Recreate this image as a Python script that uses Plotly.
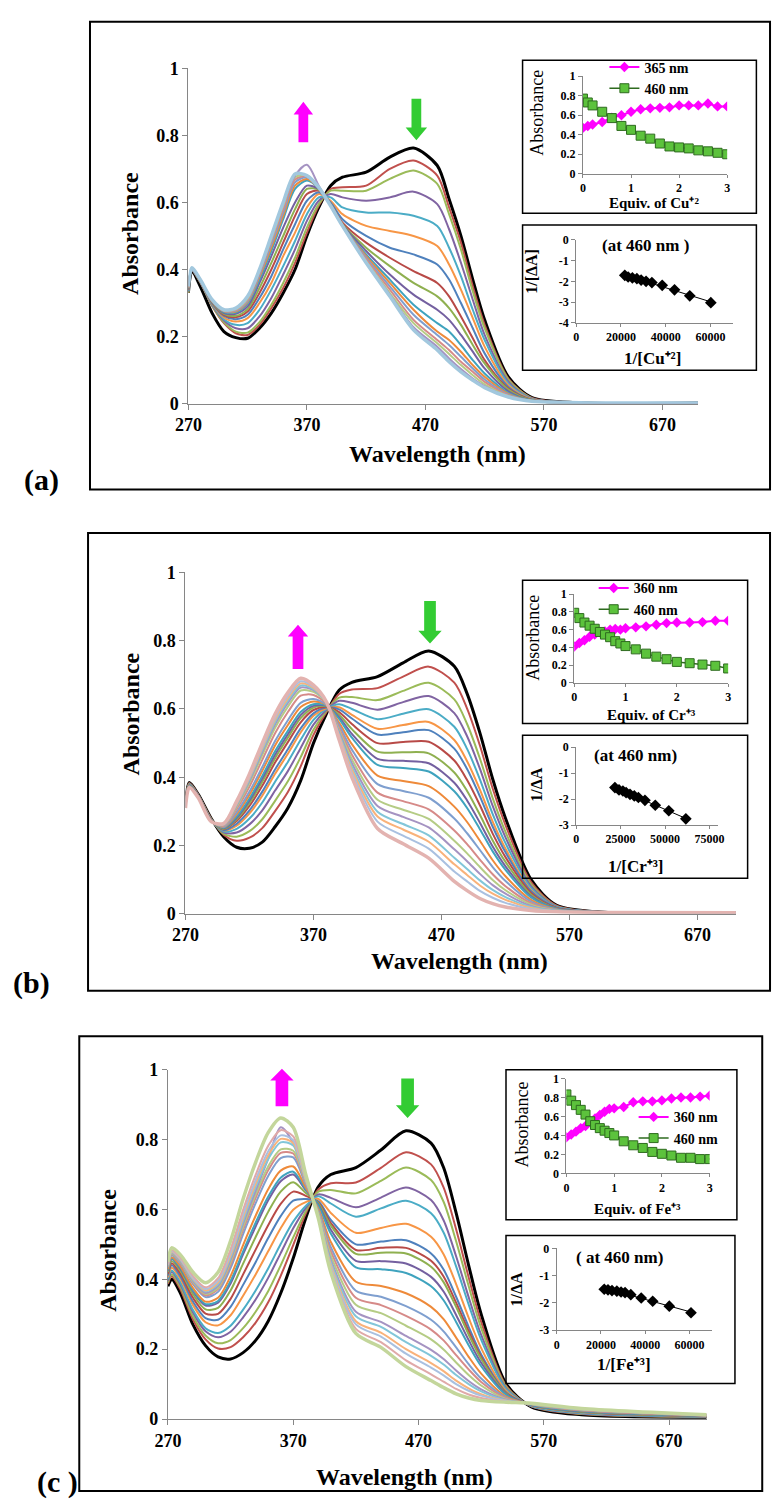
import numpy as np
import plotly.graph_objects as go

W, H = 777, 1504
FONT = "Liberation Serif, Times New Roman, Times, serif"

# ---------------- data ----------------
WL = [270, 273, 280, 290, 300, 310, 320, 330, 340, 350, 360, 370, 380, 390, 400,
      420, 440, 460, 480, 490, 500, 510, 520, 540, 560, 600, 700]

# (a) Cu2+ titration spectra (first = free ligand, last = final)
spectra_cu = [
    [0.33,0.395,0.35,0.27,0.215,0.197,0.195,0.225,0.27,0.33,0.40,0.50,0.585,0.65,0.675,0.69,0.735,0.762,0.71,0.61,0.50,0.37,0.25,0.08,0.018,0.003,0.002],
    [0.33,0.396,0.362,0.292,0.24,0.21,0.205,0.235,0.285,0.345,0.42,0.51,0.59,0.64,0.645,0.65,0.70,0.725,0.68,0.585,0.48,0.35,0.235,0.075,0.017,0.003,0.002],
    [0.33,0.397,0.362,0.293,0.243,0.215,0.212,0.243,0.295,0.36,0.435,0.525,0.595,0.635,0.635,0.635,0.67,0.695,0.655,0.565,0.46,0.335,0.225,0.072,0.016,0.003,0.002],
    [0.335,0.398,0.363,0.295,0.248,0.225,0.225,0.26,0.315,0.385,0.46,0.545,0.605,0.625,0.615,0.605,0.615,0.632,0.595,0.52,0.42,0.31,0.205,0.066,0.015,0.003,0.002],
    [0.335,0.399,0.364,0.297,0.252,0.235,0.24,0.28,0.34,0.41,0.485,0.565,0.615,0.615,0.585,0.57,0.57,0.56,0.53,0.465,0.38,0.28,0.19,0.06,0.014,0.003,0.002],
    [0.34,0.40,0.365,0.299,0.257,0.245,0.255,0.30,0.36,0.44,0.51,0.585,0.625,0.605,0.565,0.53,0.515,0.50,0.47,0.415,0.34,0.255,0.17,0.055,0.013,0.003,0.002],
    [0.34,0.40,0.366,0.30,0.262,0.252,0.265,0.315,0.38,0.46,0.535,0.605,0.63,0.60,0.55,0.50,0.465,0.445,0.415,0.37,0.30,0.225,0.15,0.05,0.012,0.003,0.002],
    [0.34,0.401,0.366,0.302,0.265,0.258,0.275,0.33,0.40,0.48,0.56,0.625,0.635,0.595,0.54,0.48,0.435,0.395,0.36,0.32,0.26,0.195,0.13,0.045,0.011,0.003,0.002],
    [0.342,0.402,0.367,0.303,0.268,0.262,0.282,0.345,0.42,0.50,0.58,0.64,0.638,0.595,0.535,0.465,0.41,0.36,0.32,0.285,0.235,0.175,0.12,0.042,0.01,0.003,0.002],
    [0.343,0.402,0.367,0.304,0.27,0.268,0.29,0.36,0.44,0.525,0.60,0.65,0.64,0.594,0.533,0.455,0.385,0.325,0.28,0.25,0.205,0.155,0.105,0.037,0.009,0.003,0.002],
    [0.344,0.403,0.368,0.306,0.273,0.272,0.298,0.37,0.455,0.55,0.64,0.665,0.642,0.593,0.532,0.445,0.37,0.295,0.24,0.215,0.175,0.13,0.09,0.032,0.009,0.003,0.002],
    [0.345,0.403,0.368,0.306,0.275,0.275,0.303,0.378,0.465,0.56,0.65,0.67,0.643,0.592,0.531,0.44,0.36,0.28,0.215,0.19,0.155,0.115,0.08,0.029,0.008,0.003,0.002],
    [0.346,0.404,0.369,0.307,0.276,0.277,0.306,0.384,0.475,0.57,0.66,0.675,0.644,0.591,0.531,0.435,0.35,0.265,0.205,0.175,0.14,0.105,0.072,0.027,0.008,0.003,0.002],
    [0.347,0.404,0.369,0.308,0.277,0.279,0.31,0.39,0.485,0.58,0.668,0.678,0.645,0.591,0.53,0.43,0.34,0.25,0.19,0.16,0.125,0.095,0.065,0.025,0.008,0.003,0.002],
    [0.348,0.405,0.37,0.309,0.278,0.281,0.313,0.395,0.49,0.59,0.675,0.68,0.645,0.59,0.53,0.425,0.33,0.24,0.18,0.148,0.115,0.085,0.058,0.023,0.007,0.003,0.002],
    [0.349,0.405,0.37,0.31,0.279,0.283,0.317,0.398,0.495,0.595,0.68,0.712,0.65,0.59,0.53,0.422,0.325,0.228,0.17,0.135,0.103,0.075,0.052,0.021,0.007,0.003,0.002],
    [0.35,0.405,0.37,0.31,0.28,0.285,0.32,0.40,0.50,0.60,0.685,0.68,0.645,0.59,0.53,0.42,0.32,0.22,0.16,0.125,0.095,0.07,0.048,0.02,0.007,0.003,0.002],
]

# (b) Cr3+ titration spectra
spectra_cr = [
    [0.33,0.385,0.35,0.28,0.225,0.195,0.192,0.21,0.255,0.31,0.39,0.50,0.585,0.655,0.678,0.695,0.735,0.77,0.725,0.645,0.53,0.395,0.28,0.10,0.025,0.004,0.003],
    [0.327,0.383,0.349,0.279,0.231,0.214,0.223,0.251,0.301,0.357,0.432,0.524,0.59,0.644,0.657,0.661,0.695,0.724,0.677,0.601,0.493,0.367,0.26,0.093,0.024,0.004,0.003],
    [0.325,0.382,0.348,0.278,0.234,0.226,0.242,0.277,0.331,0.388,0.459,0.539,0.594,0.633,0.635,0.626,0.653,0.677,0.628,0.556,0.455,0.339,0.24,0.086,0.022,0.004,0.003],
    [0.324,0.38,0.347,0.277,0.238,0.238,0.262,0.303,0.361,0.418,0.486,0.554,0.597,0.624,0.618,0.598,0.62,0.638,0.588,0.52,0.425,0.316,0.224,0.08,0.021,0.004,0.003],
    [0.322,0.379,0.346,0.276,0.241,0.249,0.279,0.326,0.387,0.445,0.51,0.568,0.60,0.614,0.60,0.57,0.586,0.599,0.548,0.483,0.394,0.292,0.207,0.075,0.02,0.004,0.003],
    [0.321,0.378,0.345,0.275,0.244,0.258,0.294,0.346,0.41,0.469,0.531,0.58,0.602,0.605,0.583,0.542,0.553,0.562,0.509,0.447,0.364,0.27,0.191,0.069,0.018,0.004,0.003],
    [0.32,0.377,0.345,0.275,0.245,0.264,0.303,0.358,0.423,0.482,0.543,0.587,0.604,0.599,0.572,0.525,0.532,0.538,0.484,0.424,0.344,0.255,0.18,0.066,0.018,0.004,0.003],
    [0.319,0.376,0.344,0.274,0.248,0.272,0.316,0.375,0.443,0.503,0.561,0.597,0.606,0.591,0.556,0.50,0.503,0.504,0.449,0.392,0.318,0.235,0.166,0.061,0.017,0.004,0.003],
    [0.318,0.376,0.344,0.274,0.249,0.277,0.325,0.387,0.456,0.516,0.573,0.604,0.608,0.583,0.541,0.475,0.473,0.47,0.414,0.36,0.29,0.215,0.152,0.056,0.016,0.004,0.003],
    [0.317,0.375,0.344,0.274,0.251,0.281,0.332,0.396,0.466,0.526,0.582,0.609,0.609,0.576,0.527,0.454,0.448,0.441,0.384,0.332,0.267,0.197,0.139,0.051,0.015,0.004,0.003],
    [0.317,0.375,0.343,0.273,0.252,0.285,0.338,0.404,0.476,0.536,0.591,0.614,0.61,0.571,0.516,0.436,0.427,0.417,0.359,0.31,0.248,0.183,0.129,0.048,0.014,0.004,0.003],
    [0.316,0.374,0.343,0.273,0.254,0.292,0.349,0.419,0.493,0.553,0.606,0.622,0.612,0.56,0.497,0.405,0.389,0.374,0.314,0.269,0.214,0.157,0.11,0.041,0.013,0.004,0.003],
    [0.315,0.374,0.342,0.272,0.255,0.298,0.358,0.43,0.506,0.567,0.618,0.629,0.613,0.552,0.481,0.38,0.36,0.34,0.279,0.236,0.187,0.137,0.096,0.036,0.012,0.004,0.003],
    [0.313,0.373,0.342,0.272,0.258,0.307,0.373,0.451,0.529,0.591,0.639,0.641,0.616,0.544,0.466,0.355,0.33,0.306,0.244,0.204,0.159,0.116,0.081,0.031,0.01,0.004,0.003],
    [0.312,0.372,0.341,0.271,0.26,0.314,0.384,0.465,0.545,0.607,0.654,0.65,0.618,0.537,0.453,0.334,0.305,0.278,0.214,0.177,0.137,0.099,0.069,0.027,0.01,0.004,0.003],
    [0.312,0.371,0.341,0.271,0.261,0.318,0.39,0.474,0.555,0.618,0.663,0.655,0.619,0.532,0.441,0.316,0.284,0.253,0.189,0.154,0.117,0.084,0.059,0.023,0.009,0.004,0.003],
    [0.311,0.371,0.341,0.271,0.262,0.321,0.395,0.48,0.562,0.624,0.669,0.658,0.619,0.526,0.431,0.299,0.263,0.23,0.164,0.131,0.098,0.07,0.049,0.02,0.008,0.004,0.003],
    [0.311,0.371,0.34,0.27,0.263,0.323,0.399,0.486,0.569,0.631,0.675,0.662,0.62,0.521,0.422,0.285,0.247,0.211,0.145,0.114,0.083,0.059,0.041,0.017,0.007,0.004,0.003],
    [0.311,0.37,0.34,0.27,0.264,0.326,0.403,0.491,0.575,0.638,0.681,0.665,0.621,0.517,0.413,0.27,0.229,0.191,0.124,0.095,0.067,0.047,0.032,0.014,0.007,0.004,0.003],
    [0.31,0.37,0.34,0.27,0.265,0.33,0.41,0.50,0.585,0.648,0.69,0.67,0.622,0.51,0.40,0.25,0.205,0.163,0.095,0.068,0.045,0.03,0.02,0.01,0.006,0.004,0.003],
]

# (c) Fe3+ titration spectra
spectra_fe = [
    [0.38,0.40,0.36,0.27,0.21,0.178,0.172,0.19,0.225,0.28,0.36,0.46,0.575,0.665,0.70,0.72,0.77,0.825,0.79,0.72,0.59,0.44,0.30,0.10,0.035,0.012,0.005],
    [0.387,0.409,0.371,0.285,0.228,0.202,0.206,0.234,0.276,0.334,0.41,0.498,0.588,0.657,0.675,0.677,0.719,0.764,0.729,0.663,0.543,0.406,0.278,0.095,0.036,0.014,0.006],
    [0.391,0.414,0.378,0.294,0.239,0.217,0.226,0.26,0.307,0.366,0.44,0.52,0.595,0.651,0.656,0.646,0.682,0.72,0.684,0.622,0.509,0.381,0.261,0.092,0.037,0.015,0.006],
    [0.396,0.421,0.385,0.305,0.251,0.234,0.25,0.291,0.342,0.404,0.475,0.546,0.604,0.643,0.633,0.606,0.634,0.663,0.627,0.569,0.466,0.349,0.241,0.088,0.037,0.016,0.007],
    [0.40,0.425,0.391,0.312,0.26,0.246,0.267,0.313,0.368,0.431,0.501,0.565,0.61,0.638,0.617,0.579,0.603,0.625,0.589,0.534,0.437,0.328,0.227,0.085,0.038,0.017,0.007],
    [0.406,0.433,0.401,0.326,0.277,0.268,0.297,0.353,0.414,0.48,0.546,0.599,0.621,0.63,0.59,0.533,0.547,0.559,0.522,0.472,0.386,0.29,0.203,0.08,0.039,0.019,0.008],
    [0.411,0.44,0.408,0.336,0.289,0.284,0.321,0.384,0.449,0.518,0.581,0.625,0.63,0.623,0.57,0.50,0.508,0.512,0.474,0.428,0.35,0.264,0.185,0.076,0.04,0.02,0.008],
    [0.416,0.446,0.416,0.347,0.302,0.301,0.344,0.414,0.485,0.555,0.616,0.651,0.639,0.62,0.561,0.484,0.49,0.49,0.453,0.408,0.333,0.252,0.177,0.074,0.04,0.021,0.008],
    [0.421,0.452,0.424,0.357,0.314,0.318,0.368,0.445,0.521,0.593,0.651,0.678,0.647,0.618,0.554,0.473,0.476,0.474,0.436,0.392,0.321,0.242,0.172,0.073,0.04,0.021,0.009],
    [0.425,0.458,0.43,0.366,0.325,0.333,0.388,0.472,0.551,0.626,0.681,0.70,0.655,0.614,0.542,0.453,0.452,0.445,0.407,0.365,0.298,0.226,0.161,0.071,0.041,0.022,0.009],
    [0.426,0.459,0.433,0.369,0.329,0.338,0.395,0.48,0.562,0.636,0.691,0.708,0.658,0.611,0.531,0.434,0.429,0.418,0.38,0.34,0.278,0.211,0.151,0.069,0.041,0.023,0.009],
    [0.429,0.463,0.437,0.375,0.336,0.347,0.409,0.498,0.582,0.658,0.711,0.723,0.663,0.603,0.507,0.393,0.381,0.36,0.321,0.286,0.233,0.178,0.13,0.064,0.042,0.024,0.01],
    [0.434,0.469,0.445,0.386,0.349,0.364,0.432,0.529,0.618,0.696,0.747,0.749,0.671,0.598,0.492,0.367,0.35,0.323,0.284,0.251,0.205,0.157,0.116,0.061,0.042,0.025,0.01],
    [0.436,0.472,0.448,0.39,0.354,0.372,0.442,0.542,0.633,0.712,0.762,0.76,0.675,0.594,0.48,0.347,0.326,0.295,0.256,0.225,0.183,0.142,0.106,0.059,0.043,0.026,0.01],
    [0.437,0.474,0.45,0.393,0.358,0.376,0.449,0.551,0.643,0.723,0.772,0.768,0.678,0.591,0.468,0.327,0.303,0.267,0.228,0.199,0.162,0.126,0.096,0.057,0.043,0.027,0.011],
    [0.439,0.476,0.452,0.396,0.361,0.381,0.456,0.56,0.653,0.745,0.835,0.79,0.68,0.587,0.456,0.307,0.278,0.238,0.198,0.172,0.139,0.109,0.085,0.055,0.044,0.028,0.011],
    [0.44,0.477,0.455,0.399,0.365,0.386,0.463,0.568,0.664,0.744,0.792,0.783,0.683,0.584,0.449,0.294,0.264,0.22,0.181,0.156,0.126,0.10,0.079,0.053,0.044,0.028,0.011],
    [0.442,0.479,0.457,0.402,0.368,0.391,0.469,0.577,0.674,0.755,0.802,0.79,0.685,0.582,0.441,0.28,0.247,0.20,0.16,0.137,0.11,0.088,0.071,0.052,0.044,0.029,0.011],
    [0.443,0.481,0.459,0.405,0.372,0.396,0.476,0.586,0.684,0.766,0.812,0.798,0.688,0.58,0.435,0.271,0.236,0.187,0.147,0.125,0.10,0.081,0.067,0.051,0.044,0.029,0.012],
    [0.445,0.484,0.462,0.41,0.377,0.403,0.486,0.599,0.699,0.782,0.827,0.809,0.691,0.577,0.428,0.258,0.22,0.168,0.128,0.107,0.086,0.07,0.06,0.049,0.045,0.03,0.012],
    [0.45,0.49,0.47,0.42,0.39,0.42,0.51,0.63,0.735,0.82,0.862,0.835,0.70,0.575,0.42,0.245,0.205,0.15,0.11,0.09,0.072,0.06,0.053,0.048,0.045,0.03,0.012],
]

# insets: absorbance vs equivalents
eq_cu = [0, 0.1, 0.2, 0.4, 0.6, 0.8, 1.0, 1.2, 1.4, 1.6, 1.8, 2.0, 2.2, 2.4, 2.6, 2.8, 3.0]
cu_365 = [0.47, 0.49, 0.505, 0.53, 0.575, 0.60, 0.635, 0.66, 0.67, 0.675, 0.68, 0.70, 0.70, 0.70, 0.72, 0.69, 0.69]
cu_460 = [0.77, 0.73, 0.70, 0.635, 0.57, 0.49, 0.45, 0.39, 0.36, 0.31, 0.28, 0.27, 0.26, 0.24, 0.23, 0.215, 0.20]

eq_cr = [0, 0.1, 0.2, 0.3, 0.4, 0.5, 0.6, 0.7, 0.8, 0.9, 1.0, 1.2, 1.4, 1.6, 1.8, 2.0, 2.25, 2.5, 2.75, 3.0]
cr_360 = [0.41, 0.45, 0.48, 0.52, 0.545, 0.57, 0.58, 0.60, 0.607, 0.60, 0.615, 0.626, 0.637, 0.656, 0.674, 0.68, 0.68, 0.685, 0.70, 0.70]
cr_460 = [0.79, 0.73, 0.68, 0.645, 0.61, 0.574, 0.544, 0.515, 0.47, 0.444, 0.415, 0.378, 0.33, 0.296, 0.267, 0.237, 0.222, 0.207, 0.193, 0.163]

eq_fe = [0, 0.1, 0.2, 0.3, 0.4, 0.5, 0.6, 0.7, 0.8, 0.9, 1.0, 1.2, 1.4, 1.6, 1.8, 2.0, 2.2, 2.4, 2.6, 2.8, 3.0]
fe_360 = [0.38, 0.41, 0.44, 0.477, 0.50, 0.547, 0.58, 0.617, 0.65, 0.68, 0.686, 0.70, 0.75, 0.76, 0.76, 0.77, 0.79, 0.80, 0.80, 0.81, 0.82]
fe_460 = [0.833, 0.767, 0.72, 0.67, 0.62, 0.55, 0.51, 0.477, 0.45, 0.425, 0.40, 0.338, 0.296, 0.268, 0.226, 0.206, 0.188, 0.164, 0.164, 0.15, 0.15]

# insets: double reciprocal plots
inv_cu = [21700, 23200, 25100, 27100, 29000, 31200, 33800, 38400, 43900, 50700, 60100]
inv_dA_cu = [-1.71, -1.79, -1.83, -1.87, -1.94, -2.0, -2.06, -2.19, -2.41, -2.70, -3.03]
inv_cr = [21800, 24100, 26300, 28100, 30300, 32700, 35000, 38700, 44500, 52100, 61700]
inv_dA_cr = [-1.56, -1.65, -1.69, -1.75, -1.82, -1.88, -1.94, -2.05, -2.24, -2.45, -2.76]
inv_fe = [21500, 23200, 25000, 27200, 29100, 30900, 33500, 38200, 43400, 50900, 60700]
inv_dA_fe = [-1.50, -1.52, -1.55, -1.57, -1.60, -1.62, -1.70, -1.82, -1.94, -2.12, -2.36]

PALETTE = ['#C0504D', '#9BBB59', '#8064A2', '#4BACC6', '#F79646', '#4F81BD',
           '#B84A47', '#8FB050', '#7460A0', '#3FA3BE', '#EE8A3A', '#7F9FCF',
           '#D68A88', '#B5CC85', '#A593C2', '#82C6D9', '#F9B27A', '#A9C0E0', '#E0A9A8']
FINAL_A = '#A2C8DE'
FINAL_B = '#E3B3B0'
FINAL_C = '#C3D69B'


# ---------------- helpers ----------------
def px2x(px):
    return px / W


def px2y(py):
    return 1 - py / H


def bfont(size, bold=True):
    return dict(family=FONT, size=size, color='black', weight='bold' if bold else 'normal')


fig = go.Figure()


def add_spectra(spectra, final_color, xa, ya):
    n = len(spectra)
    for i, ys in enumerate(spectra):
        if i == 0:
            col, wd = '#000000', 3
        elif i == n - 1:
            col, wd = final_color, 3.5
        else:
            col, wd = PALETTE[(i - 1) % len(PALETTE)], 2
        fig.add_trace(go.Scatter(x=WL, y=ys, mode='lines', xaxis=xa, yaxis=ya,
                                 line=dict(color=col, width=wd, shape='spline', smoothing=0.8),
                                 showlegend=False, hoverinfo='skip'))


add_spectra(spectra_cu, FINAL_A, 'x', 'y')
add_spectra(spectra_cr, FINAL_B, 'x4', 'y4')
add_spectra(spectra_fe, FINAL_C, 'x7', 'y7')


def add_equiv(eq, a_short, a460, label_short, xa, ya, leg):
    fig.add_trace(go.Scatter(x=eq, y=a_short, mode='lines+markers', xaxis=xa, yaxis=ya,
                             name=label_short, legend=leg,
                             line=dict(color='#FF00FF', width=2),
                             marker=dict(symbol='diamond', size=8, color='#FF00FF')))
    fig.add_trace(go.Scatter(x=eq, y=a460, mode='lines+markers', xaxis=xa, yaxis=ya,
                             name='460 nm', legend=leg,
                             line=dict(color='#2E6B1F', width=1.5),
                             marker=dict(symbol='square', size=9, color='#5CC23C',
                                         line=dict(color='#2E6B1F', width=1))))


add_equiv(eq_cu, cu_365, cu_460, '365 nm', 'x2', 'y2', 'legend')
add_equiv(eq_cr, cr_360, cr_460, '360 nm', 'x5', 'y5', 'legend2')
add_equiv(eq_fe, fe_360, fe_460, '360 nm', 'x8', 'y8', 'legend3')


def add_recip(xs, ys, xa, ya):
    k, b = np.polyfit(xs, ys, 1)
    xl = [min(xs), max(xs)]
    fig.add_trace(go.Scatter(x=xl, y=[k * v + b for v in xl], mode='lines', xaxis=xa, yaxis=ya,
                             line=dict(color='black', width=1), showlegend=False, hoverinfo='skip'))
    fig.add_trace(go.Scatter(x=xs, y=ys, mode='markers', xaxis=xa, yaxis=ya,
                             marker=dict(symbol='diamond', size=9, color='black'),
                             showlegend=False))


add_recip(inv_cu, inv_dA_cu, 'x3', 'y3')
add_recip(inv_cr, inv_dA_cr, 'x6', 'y6')
add_recip(inv_fe, inv_dA_fe, 'x9', 'y9')

# ---------------- axes ----------------
AX_COL = '#868686'
main_tick = bfont(18)
ins_tick = bfont(12)


def xdom(l, r):
    return [px2x(l), px2x(r)]


def ydom(top, bottom):
    return [px2y(bottom), px2y(top)]


def axis(domain, rng, anchor, tickvals, ticktext, font, ticklen=5):
    return dict(domain=domain, range=rng, anchor=anchor, tickvals=tickvals, ticktext=ticktext,
                showline=True, linecolor=AX_COL, linewidth=1, ticks='outside', ticklen=ticklen,
                tickcolor=AX_COL, showgrid=False, zeroline=False, tickfont=font, fixedrange=True)


wl_ticks = [270, 370, 470, 570, 670]
wl_text = [str(v) for v in wl_ticks]
abs_ticks = [0, 0.2, 0.4, 0.6, 0.8, 1]
abs_text = ['0', '0.2', '0.4', '0.6', '0.8', '1']
eq_ticks = [0, 1, 2, 3]
eq_text = ['0', '1', '2', '3']

layout_axes = {}
# panel a
layout_axes['xaxis'] = axis(xdom(179, 702), [270, 700], 'y', wl_ticks, wl_text, main_tick)
layout_axes['yaxis'] = axis(ydom(59, 399), [0, 1], 'x', abs_ticks, abs_text, main_tick)
layout_axes['xaxis2'] = axis(xdom(584, 732), [0, 3], 'y2', eq_ticks, eq_text, ins_tick, 3)
layout_axes['yaxis2'] = axis(ydom(67, 166), [0, 1], 'x2', abs_ticks, abs_text, ins_tick, 4)
layout_axes['xaxis3'] = axis(xdom(577, 738), [0, 70000], 'y3', [0, 20000, 40000, 60000],
                             ['0', '20000', '40000', '60000'], ins_tick, 3)
layout_axes['yaxis3'] = axis(ydom(233, 317), [-4, 0], 'x3', [-4, -3, -2, -1, 0],
                             ['-4', '-3', '-2', '-1', '0'], ins_tick, 4)
# panel b
layout_axes['xaxis4'] = axis(xdom(176, 741), [270, 700], 'y4', wl_ticks, wl_text, main_tick)
layout_axes['yaxis4'] = axis(ydom(570, 916), [0, 1], 'x4', abs_ticks, abs_text, main_tick)
layout_axes['xaxis5'] = axis(xdom(575, 733), [0, 3], 'y5', eq_ticks, eq_text, ins_tick, 3)
layout_axes['yaxis5'] = axis(ydom(592, 682), [0, 1], 'x5', abs_ticks, abs_text, ins_tick, 4)
layout_axes['xaxis6'] = axis(xdom(577, 723), [0, 80000], 'y6', [0, 25000, 50000, 75000],
                             ['0', '25000', '50000', '75000'], ins_tick, 3)
layout_axes['yaxis6'] = axis(ydom(747, 826), [-3, 0], 'x6', [-3, -2, -1, 0],
                             ['-3', '-2', '-1', '0'], ins_tick, 4)
# panel c
layout_axes['xaxis7'] = axis(xdom(158, 711), [270, 700], 'y7', wl_ticks, wl_text, main_tick)
layout_axes['yaxis7'] = axis(ydom(1074, 1428), [0, 1], 'x7', abs_ticks, abs_text, main_tick)
layout_axes['xaxis8'] = axis(xdom(567, 714), [0, 3], 'y8', eq_ticks, eq_text, ins_tick, 3)
layout_axes['yaxis8'] = axis(ydom(1083, 1179), [0, 1], 'x8', abs_ticks, abs_text, ins_tick, 4)
layout_axes['xaxis9'] = axis(xdom(557, 716), [0, 70000], 'y9', [0, 20000, 40000, 60000],
                             ['0', '20000', '40000', '60000'], ins_tick, 3)
layout_axes['yaxis9'] = axis(ydom(1255, 1338), [-3, 0], 'x9', [-3, -2, -1, 0],
                             ['-3', '-2', '-1', '0'], ins_tick, 4)


# ---------------- text ----------------
def ann(text, cx, cy, size, bold=True, angle=0):
    return dict(text=text, x=px2x(cx), y=px2y(cy),
                xref='paper', yref='paper', showarrow=False,
                textangle=angle, xanchor='center', yanchor='middle',
                font=bfont(size, bold))


annotations = [
    # panel a
    ann('Absorbance', 119, 226, 24, angle=-90),
    ann('Wavelength (nm)', 435, 450, 24),
    ann('Absorbance', 536, 104, 18, bold=False, angle=-90),
    ann('Equiv. of Cu⁺²', 657, 196, 15),
    ann('1/[ΔA]', 531, 265, 16, angle=-90),
    ann('1/[Cu⁺²]', 655, 353, 17),
    ann('(at 460 nm )', 648, 239, 17),
    ann('(a)', 28, 476, 30),
    # panel b
    ann('Absorbance', 120, 713, 24, angle=-90),
    ann('Wavelength (nm)', 457, 964, 24),
    ann('Absorbance', 532, 636, 18, bold=False, angle=-90),
    ann('Equiv. of Cr⁺³', 654, 714, 15),
    ann('1/ΔA', 536, 785, 16, angle=-90),
    ann('1/[Cr⁺³]', 638, 868, 17),
    ann('(at 460 nm)', 638, 756, 17),
    ann('(b)', 18, 986, 30),
    # panel c
    ann('Absorbance', 97, 1257, 24, angle=-90),
    ann('Wavelength (nm)', 401, 1487, 24),
    ann('Absorbance', 521, 1130, 18, bold=False, angle=-90),
    ann('Equiv. of Fe⁺³', 640, 1215, 15),
    ann('1/ΔA', 516, 1297, 16, angle=-90),
    ann('1/[Fe⁺³]', 626, 1373, 17),
    ann('( at 460 nm)', 622, 1264, 17),
    ann('(c )', 45, 1492, 30),
]


# ---------------- shapes ----------------
def rect(l, t, r, b, width):
    return dict(type='rect', xref='paper', yref='paper', x0=px2x(l), x1=px2x(r),
                y0=px2y(b), y1=px2y(t), line=dict(color='black', width=width),
                fillcolor='rgba(0,0,0,0)', layer='above')


def block_arrow(cx, y_tail, y_tip, shaft_w, head_w, head_h, color):
    d = 1 if y_tip > y_tail else -1
    base = y_tip - d * head_h
    pts = [(cx - shaft_w / 2, y_tail), (cx - shaft_w / 2, base), (cx - head_w / 2, base),
           (cx, y_tip), (cx + head_w / 2, base), (cx + shaft_w / 2, base), (cx + shaft_w / 2, y_tail)]
    path = 'M ' + ' L '.join(f'{px2x(x):.5f},{px2y(y):.5f}' for x, y in pts) + ' Z'
    return dict(type='path', xref='paper', yref='paper', path=path, fillcolor=color,
                line=dict(width=0), layer='above')


MAG = '#FF00FF'
GRN = '#33CC33'
shapes = [
    rect(78, 12, 776, 486, 2), rect(76, 530, 776, 994, 2), rect(67, 1040, 768, 1501, 2),
    rect(522, 51, 762, 206, 1.5), rect(522, 218, 762, 365, 1.5),
    rect(522, 578, 753, 723, 1.5), rect(522, 735, 753, 880, 1.5),
    rect(505, 1074, 742, 1226, 1.5), rect(505, 1242, 740, 1392, 1.5),
    block_arrow(297, 134, 93, 10, 20, 13, MAG), block_arrow(413, 90, 132, 10, 22, 13, GRN),
    block_arrow(291.5, 668, 623, 11, 21, 12, MAG), block_arrow(427, 599, 642, 12, 24, 13, GRN),
    block_arrow(275, 1111, 1073, 13, 24, 12, MAG), block_arrow(404, 1083, 1123, 13, 24, 13, GRN),
]


def legend_at(px, py):
    return dict(x=px2x(px), y=px2y(py), xanchor='left', yanchor='top', font=bfont(14),
                bgcolor='rgba(0,0,0,0)', itemwidth=30, tracegroupgap=0, traceorder='normal')


fig.update_layout(
    width=W, height=H, margin=dict(l=0, r=0, t=0, b=0),
    paper_bgcolor='white', plot_bgcolor='rgba(0,0,0,0)',
    font=dict(family=FONT),
    showlegend=True,
    legend=legend_at(606, 42),
    legend2=legend_at(595, 570),
    legend3=legend_at(636, 1106),
    annotations=annotations, shapes=shapes,
    **layout_axes,
)

fig.write_html('out.html')
